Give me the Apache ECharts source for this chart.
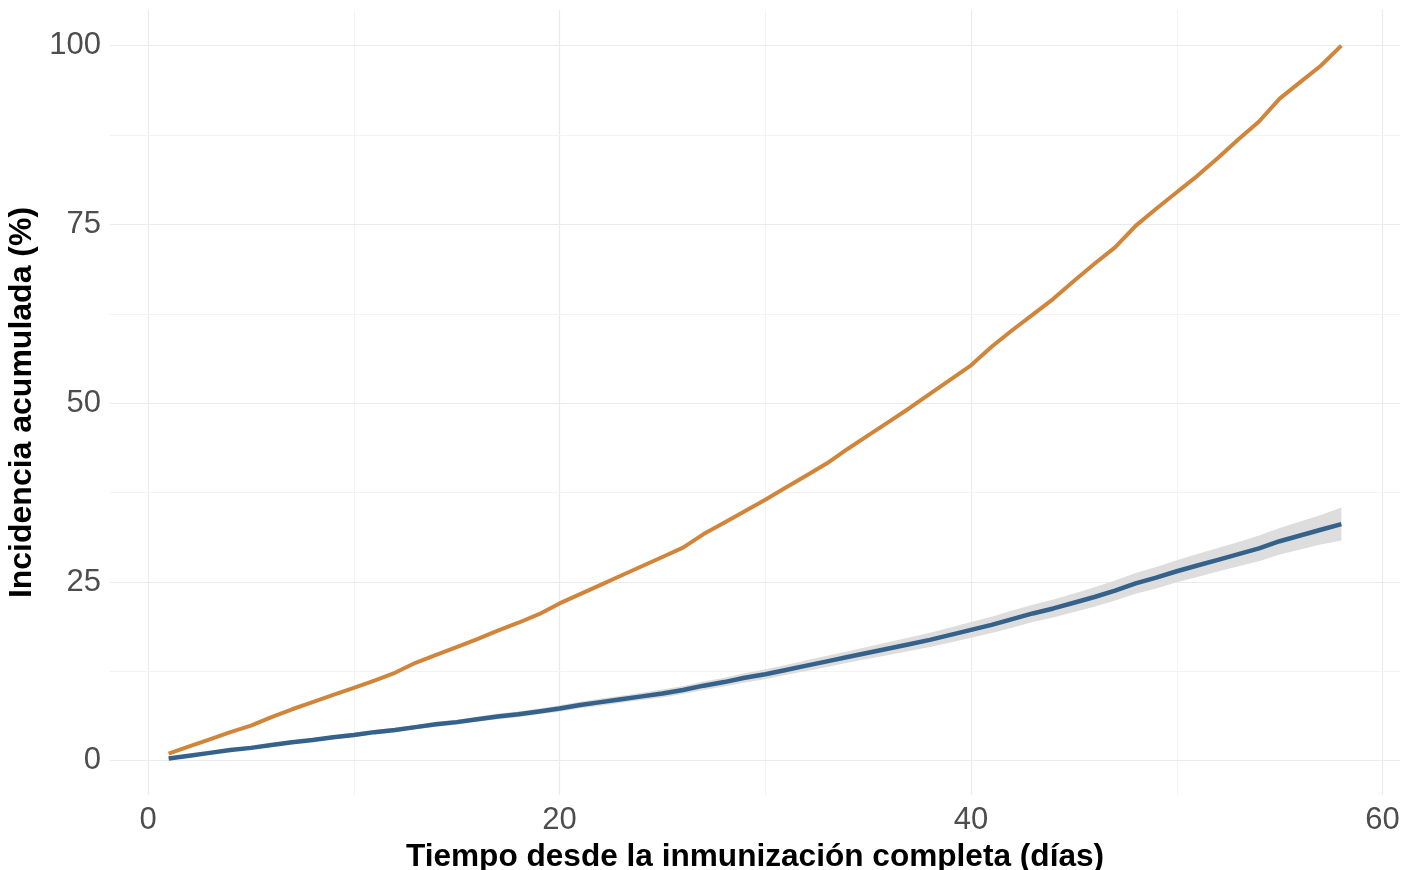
<!DOCTYPE html>
<html>
<head>
<meta charset="utf-8">
<script src="https://cdn.jsdelivr.net/npm/echarts@6/dist/echarts.min.js"></script>
<style>
html,body{margin:0;padding:0;background:#fff;}
#chart{width:1404px;height:870px;}
</style>
</head>
<body>
<div id="chart"></div>
<script>
// ---- Data ----
const days = [1,2,3,4,5,6,7,8,9,10,11,12,13,14,15,16,17,18,19,20,21,22,23,24,25,26,27,28,29,30,31,32,33,34,35,36,37,38,39,40,41,42,43,44,45,46,47,48,49,50,51,52,53,54,55,56,57,58];
const orangeSeries = [1.0,2.0,3.0,4.0,4.9,6.1,7.2,8.2,9.2,10.2,11.2,12.3,13.7,14.8,15.9,17.0,18.2,19.3,20.5,22.0,23.3,24.6,25.9,27.2,28.5,29.8,31.7,33.3,34.9,36.5,38.2,39.9,41.6,43.6,45.5,47.4,49.3,51.3,53.3,55.3,57.9,60.2,62.4,64.6,67.1,69.5,71.8,74.8,77.2,79.5,81.8,84.3,86.9,89.4,92.6,94.9,97.2,100.0];
const blueSeries = [0.3,0.7,1.1,1.5,1.8,2.2,2.6,2.9,3.3,3.6,4.0,4.3,4.7,5.1,5.4,5.8,6.2,6.5,6.9,7.3,7.8,8.2,8.6,9.0,9.4,9.9,10.5,11.0,11.6,12.1,12.7,13.3,13.9,14.5,15.1,15.7,16.3,16.9,17.6,18.3,19.0,19.8,20.6,21.3,22.1,22.9,23.8,24.8,25.6,26.5,27.3,28.1,28.9,29.7,30.7,31.5,32.3,33.1];
const blueLower = [0.2,0.6,0.95,1.35,1.6,2.0,2.4,2.65,3.05,3.3,3.7,4.0,4.4,4.75,5.05,5.45,5.8,6.1,6.5,6.85,7.35,7.7,8.1,8.5,8.85,9.35,9.9,10.4,10.95,11.4,12.0,12.55,13.1,13.7,14.25,14.8,15.35,15.9,16.55,17.2,17.85,18.6,19.4,20.05,20.8,21.55,22.4,23.35,24.1,24.95,25.7,26.45,27.2,27.9,28.85,29.55,30.25,30.8];
const blueUpper = [0.4,0.8,1.25,1.65,2.0,2.4,2.8,3.15,3.55,3.9,4.3,4.6,5.0,5.45,5.75,6.15,6.6,6.9,7.3,7.75,8.25,8.7,9.1,9.5,9.95,10.45,11.1,11.6,12.25,12.8,13.4,14.05,14.7,15.3,15.95,16.6,17.25,17.9,18.65,19.4,20.15,21.0,21.8,22.55,23.4,24.25,25.2,26.25,27.1,28.05,28.9,29.75,30.6,31.5,32.55,33.45,34.35,35.4];
const xMajorTicks = [0,20,40,60];
const xMinorTicks = [10,30,50];
const yMajorTicks = [0,25,50,75,100];
const yMinorTicks = [12.5,37.5,62.5,87.5];
const xTitle = 'Tiempo desde la inmunización completa (días)';
const yTitle = 'Incidencia acumulada (%)';

// ---- Build ----
const pairs = (ys) => days.map((d,i)=>[d, ys[i]]);
const ribbonData = days.map((d,i)=>[d, blueLower[i], blueUpper[i]]);

const majorStyle = {color:'#ebebeb', width:1.2, type:'solid'};
const minorStyle = {color:'#f3f3f3', width:1, type:'solid'};
const gridLines = [
  ...xMajorTicks.map(v=>({xAxis:v, lineStyle:majorStyle})),
  ...xMinorTicks.map(v=>({xAxis:v, lineStyle:minorStyle})),
  ...yMajorTicks.map(v=>({yAxis:v, lineStyle:majorStyle})),
  ...yMinorTicks.map(v=>({yAxis:v, lineStyle:minorStyle}))
];

function renderRibbon(params, api){
  if (params.dataIndex !== 0) return null;
  const upperPts = ribbonData.map(r=>api.coord([r[0], r[2]]));
  const lowerPts = ribbonData.slice().reverse().map(r=>api.coord([r[0], r[1]]));
  return {
    type:'polygon',
    shape:{points: upperPts.concat(lowerPts)},
    style:{fill:'#dddddd', stroke:null},
    silent:true
  };
}

const font = '"Liberation Sans", Arial, sans-serif';
const chart = echarts.init(document.getElementById('chart'), null, {renderer:'canvas'});
chart.setOption({
  animation:false,
  backgroundColor:'#ffffff',
  grid:{left:110, right:4, top:10, bottom:75, containLabel:false, outerBoundsMode:'none'},
  xAxis:{
    type:'value', min:-1.85, max:60.85,
    axisLine:{show:false}, axisTick:{show:false}, splitLine:{show:false},
    axisLabel:{customValues:xMajorTicks, color:'#4d4d4d', fontSize:31, fontFamily:font, margin:10},
    name:xTitle, nameLocation:'middle', nameGap:34,
    nameTextStyle:{color:'#000', fontSize:31.6, fontWeight:'bold', fontFamily:font}
  },
  yAxis:{
    type:'value', min:-4.79, max:104.99,
    axisLine:{show:false}, axisTick:{show:false}, splitLine:{show:false},
    axisLabel:{customValues:yMajorTicks, color:'#4d4d4d', fontSize:31, fontFamily:font, margin:9},
    name:yTitle, nameLocation:'middle', nameGap:66, nameRotate:90,
    nameTextStyle:{color:'#000', fontSize:32, fontWeight:'bold', fontFamily:font}
  },
  series:[
    {type:'line', data:[], silent:true, z:0,
     markLine:{silent:true, z:0, symbol:'none', label:{show:false}, animation:false, data:gridLines}},
    {type:'custom', data:ribbonData, renderItem:renderRibbon, encode:{x:0, y:[1,2]}, z:2, silent:true},
    {type:'line', data:pairs(orangeSeries), showSymbol:false, symbol:'none',
     lineStyle:{color:'#D1853A', width:4}, z:3},
    {type:'line', data:pairs(blueSeries), showSymbol:false, symbol:'none',
     lineStyle:{color:'#35628A', width:4.5}, z:3}
  ]
});
</script>
</body>
</html>
